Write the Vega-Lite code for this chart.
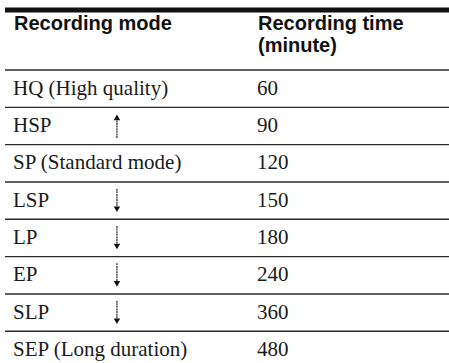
{
  "$schema": "https://vega.github.io/schema/vega-lite/v6.json",
  "width": 444,
  "height": 363,
  "autosize": {"type": "none"},
  "padding": {"left": 5, "top": 0, "right": 0, "bottom": 0},
  "background": "white",
  "config": {"view": {"stroke": null}},
  "datasets": {
    "rows": [
      {"mode": "HQ (High quality)", "arrow": "", "time": "60"},
      {"mode": "HSP", "arrow": "up", "time": "90"},
      {"mode": "SP (Standard mode)", "arrow": "", "time": "120"},
      {"mode": "LSP", "arrow": "down", "time": "150"},
      {"mode": "LP", "arrow": "down", "time": "180"},
      {"mode": "EP", "arrow": "down", "time": "240"},
      {"mode": "SLP", "arrow": "down", "time": "360"},
      {"mode": "SEP (Long duration)", "arrow": "", "time": "480"}
    ],
    "header": [
      {"label": "Recording mode", "col": "mode", "line": "l1"},
      {"label": "Recording time", "col": "time", "line": "l1"},
      {"label": "(minute)", "col": "time", "line": "l2"}
    ]
  },
  "layer": [
    {
      "data": {"name": "rows"},
      "layer": [
        {
          "mark": {"type": "rule", "color": "#2a2a2a", "strokeWidth": 1.4},
          "encoding": {
            "y": {
              "field": "mode", "type": "nominal", "bandPosition": 0,
              "scale": {"type": "band", "domain": ["HQ (High quality)", "HSP", "SP (Standard mode)", "LSP", "LP", "EP", "SLP", "SEP (Long duration)"], "range": [70, 368.6], "paddingInner": 0, "paddingOuter": 0},
              "axis": null
            }
          }
        },
        {
          "mark": {"type": "text", "align": "left", "baseline": "middle", "font": "Liberation Serif", "fontSize": 21, "color": "#1a1a1a"},
          "encoding": {
            "y": {"field": "mode", "type": "nominal", "bandPosition": 0.5, "axis": null},
            "x": {"datum": "mode", "type": "nominal", "bandPosition": 0,
              "scale": {"type": "band", "domain": ["mode", "time"], "range": [8, 496], "paddingInner": 0, "paddingOuter": 0},
              "axis": null},
            "text": {"field": "mode"}
          }
        },
        {
          "transform": [{"filter": "datum.arrow === 'down'"}],
          "mark": {"type": "rule", "color": "#222", "strokeWidth": 1.2, "strokeDash": [2, 0.6]},
          "encoding": {
            "y": {"field": "mode", "type": "nominal", "bandPosition": 0.18, "axis": null},
            "y2": {"field": "mode", "bandPosition": 0.72},
            "x": {"datum": "mode", "type": "nominal", "bandPosition": 0.426, "axis": null}
          }
        },
        {
          "transform": [{"filter": "datum.arrow === 'down'"}],
          "mark": {"type": "point", "shape": "triangle-down", "filled": true, "color": "#111", "size": 42, "opacity": 1},
          "encoding": {
            "y": {"field": "mode", "type": "nominal", "bandPosition": 0.73, "axis": null},
            "x": {"datum": "mode", "type": "nominal", "bandPosition": 0.426, "axis": null}
          }
        },
        {
          "transform": [{"filter": "datum.arrow === 'up'"}],
          "mark": {"type": "rule", "color": "#222", "strokeWidth": 1.2, "strokeDash": [2, 0.6]},
          "encoding": {
            "y": {"field": "mode", "type": "nominal", "bandPosition": 0.28, "axis": null},
            "y2": {"field": "mode", "bandPosition": 0.82},
            "x": {"datum": "mode", "type": "nominal", "bandPosition": 0.426, "axis": null}
          }
        },
        {
          "transform": [{"filter": "datum.arrow === 'up'"}],
          "mark": {"type": "point", "shape": "triangle-up", "filled": true, "color": "#111", "size": 42, "opacity": 1},
          "encoding": {
            "y": {"field": "mode", "type": "nominal", "bandPosition": 0.27, "axis": null},
            "x": {"datum": "mode", "type": "nominal", "bandPosition": 0.426, "axis": null}
          }
        },
        {
          "mark": {"type": "text", "align": "left", "baseline": "middle", "font": "Liberation Serif", "fontSize": 21, "color": "#1a1a1a"},
          "encoding": {
            "y": {"field": "mode", "type": "nominal", "bandPosition": 0.5, "axis": null},
            "x": {"datum": "time", "type": "nominal", "bandPosition": 0, "axis": null},
            "text": {"field": "time"}
          }
        }
      ]
    },
    {
      "data": {"name": "header"},
      "layer": [
        {
          "transform": [{"filter": "datum.line === 'l1' && datum.col === 'mode'"}],
          "mark": {"type": "rule", "color": "#111", "strokeWidth": 5},
          "encoding": {
            "y": {"field": "line", "type": "nominal", "bandPosition": 0,
              "scale": {"type": "band", "domain": ["l1", "l2"], "range": [10, 54], "paddingInner": 0, "paddingOuter": 0},
              "axis": null}
          }
        },
        {
          "mark": {"type": "text", "align": "left", "baseline": "middle", "font": "Liberation Sans", "fontWeight": "bold", "fontSize": 20, "color": "#111", "dx": 1, "dy": 3},
          "encoding": {
            "y": {"field": "line", "type": "nominal", "bandPosition": 0.5, "axis": null},
            "x": {"field": "col", "type": "nominal", "bandPosition": 0, "axis": null},
            "text": {"field": "label"}
          }
        }
      ]
    }
  ],
  "resolve": {"scale": {"y": "independent"}}
}
